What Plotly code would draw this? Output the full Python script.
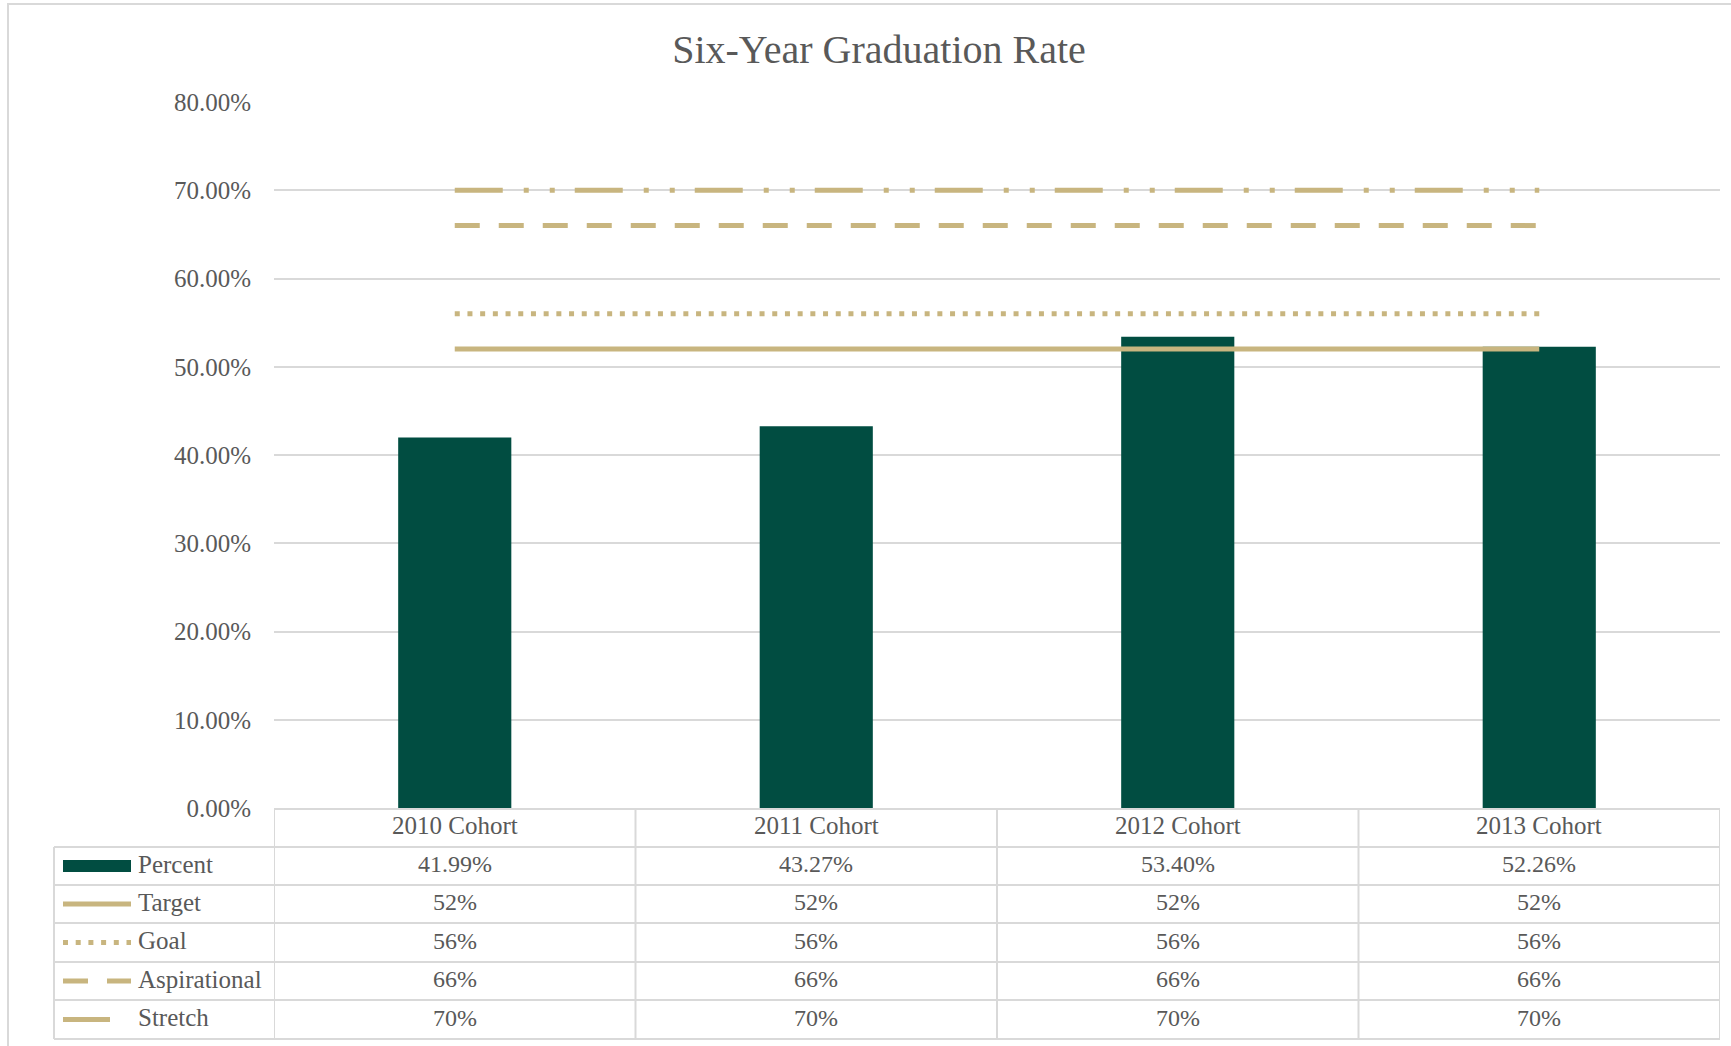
import plotly.graph_objects as go

# ---------------- data ----------------
categories = ["2010 Cohort", "2011 Cohort", "2012 Cohort", "2013 Cohort"]
percent = [0.4199, 0.4327, 0.5340, 0.5226]
target = [0.52, 0.52, 0.52, 0.52]
goal = [0.56, 0.56, 0.56, 0.56]
aspirational = [0.66, 0.66, 0.66, 0.66]
stretch = [0.70, 0.70, 0.70, 0.70]
y_tick_vals = [0.0, 0.1, 0.2, 0.3, 0.4, 0.5, 0.6, 0.7, 0.8]
y_tick_text = ["0.00%", "10.00%", "20.00%", "30.00%", "40.00%",
               "50.00%", "60.00%", "70.00%", "80.00%"]
series_names = ["Percent", "Target", "Goal", "Aspirational", "Stretch"]

# ---------------- styles ----------------
W_PX, H_PX = 1731, 1046
L, R, T, B = 274, 1720, 102, 808
GREEN = "#014D41"
GOLD = "#C8B57F"
GRID = "#D9D9D9"
TXT = "#595959"
FONT = "Liberation Serif"
dash_styles = {
    "Target": "solid",
    "Goal": "5px,7.7px",
    "Aspirational": "25px,19px",
    "Stretch": "48px,21px,5px,21px,5px,20px",
}
LW = 5


def px2x(p):
    return (p - L) / (R - L)


def px2y(p):
    return (B - p) / (B - T)


fig = go.Figure()
fig.add_trace(go.Bar(x=categories, y=percent, name="Percent",
                     marker=dict(color=GREEN, line=dict(width=0)),
                     width=0.313))
for name, vals in [("Target", target), ("Goal", goal),
                   ("Aspirational", aspirational), ("Stretch", stretch)]:
    fig.add_trace(go.Scatter(x=categories, y=vals, name=name, mode="lines",
                             line=dict(color=GOLD, width=LW,
                                       dash=dash_styles[name])))

shapes = []
annotations = []

# outer border
shapes.append(dict(type="rect", xref="paper", yref="paper",
                   x0=px2x(8), x1=px2x(1760), y0=px2y(1080), y1=px2y(4),
                   line=dict(color=GRID, width=2), layer="below"))

# table rows
row_bounds = [809, 847, 885, 923, 962, 1000, 1039]
for i, yb in enumerate(row_bounds):
    x0 = px2x(L) if i == 0 else px2x(54)
    shapes.append(dict(type="line", xref="paper", yref="paper",
                       x0=x0, x1=px2x(R), y0=px2y(yb), y1=px2y(yb),
                       line=dict(color=GRID, width=2)))
for k in range(len(categories) + 1):
    shapes.append(dict(type="line", xref="x", yref="paper",
                       x0=k - 0.5, x1=k - 0.5,
                       y0=px2y(row_bounds[0]), y1=px2y(row_bounds[-1]),
                       line=dict(color=GRID, width=2)))
shapes.append(dict(type="line", xref="paper", yref="paper",
                   x0=px2x(54), x1=px2x(54),
                   y0=px2y(row_bounds[1]), y1=px2y(row_bounds[-1]),
                   line=dict(color=GRID, width=2)))

font = dict(family=FONT, size=24, color=TXT)
label_font = dict(family=FONT, size=25, color=TXT)

# header
hc = (row_bounds[0] + row_bounds[1]) / 2 - 2
for c in categories:
    annotations.append(dict(x=c, xref="x", y=px2y(hc), yref="paper",
                            text=c, showarrow=False, font=label_font,
                            xanchor="center", yanchor="middle"))

all_series = [percent, target, goal, aspirational, stretch]
for r, (name, vals) in enumerate(zip(series_names, all_series)):
    yc = (row_bounds[r + 1] + row_bounds[r + 2]) / 2
    ty = yc - 2
    for c, v in zip(categories, vals):
        txt = f"{v*100:.2f}%" if name == "Percent" else f"{v*100:.0f}%"
        annotations.append(dict(x=c, xref="x", y=px2y(ty), yref="paper",
                                text=txt, showarrow=False, font=font,
                                xanchor="center", yanchor="middle"))
    annotations.append(dict(x=px2x(136), xref="paper", y=px2y(ty),
                            yref="paper", text=name, showarrow=False,
                            font=label_font, xanchor="left", yanchor="middle"))
    if name == "Percent":
        shapes.append(dict(type="rect", xref="paper", yref="paper",
                           x0=px2x(63), x1=px2x(131),
                           y0=px2y(yc + 6), y1=px2y(yc - 6),
                           fillcolor=GREEN, line=dict(width=0)))
    else:
        x_end = 110 if name == "Stretch" else 131
        shapes.append(dict(type="line", xref="paper", yref="paper",
                           x0=px2x(63), x1=px2x(x_end),
                           y0=px2y(yc), y1=px2y(yc),
                           line=dict(color=GOLD, width=LW,
                                     dash=dash_styles[name])))

fig.update_layout(
    width=W_PX, height=H_PX,
    margin=dict(l=L, r=W_PX - R, t=T, b=H_PX - B),
    paper_bgcolor="white", plot_bgcolor="white",
    showlegend=False,
    title=dict(text="Six-Year Graduation Rate", x=879 / W_PX,
               xanchor="center", y=1 - 49 / H_PX, yanchor="middle",
               font=dict(family=FONT, size=40, color=TXT)),
    xaxis=dict(range=[-0.5, 3.5], showticklabels=False, showgrid=False,
               zeroline=False, showline=False, ticks=""),
    yaxis=dict(range=[0, 0.8], tickvals=y_tick_vals, ticktext=y_tick_text,
               showgrid=True, gridcolor=GRID, gridwidth=2, zeroline=False,
               showline=False, ticks="", ticklabelstandoff=22,
               tickfont=dict(family=FONT, size=25, color=TXT)),
    shapes=shapes,
    annotations=annotations,
    bargap=0.687,
)

fig.write_html("out.html", config={"displayModeBar": False},
               post_script="document.body.style.margin='0';")
